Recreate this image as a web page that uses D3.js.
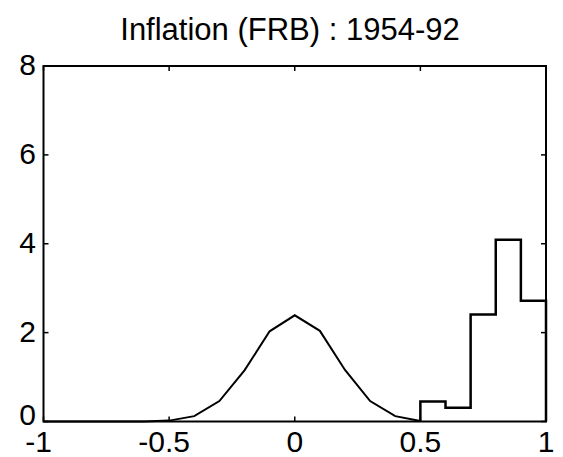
<!DOCTYPE html>
<html lang="en">

<head>
    <meta charset="UTF-8">
    <title>Inflation (FRB) : 1954-92</title>
    <script src="https://d3js.org/d3.v7.min.js"></script>
    <style>
        body { margin: 0; background: #fff; }
        text { font-family: "Liberation Sans", Arial, sans-serif; fill: #000; }
    </style>
</head>

<body>
    <script>
        // data
        var curveX = [-1, -0.9, -0.8, -0.7, -0.6, -0.5, -0.4, -0.3, -0.2, -0.1, 0, 0.1, 0.2, 0.3, 0.4, 0.5];
        var curveY = [0, 0, 0, 0, 0, 0.02, 0.12, 0.46, 1.15, 2.03, 2.39, 2.04, 1.16, 0.46, 0.12, 0.01];

        var binEdges = [0.5, 0.6, 0.7, 0.8, 0.9, 1.0];
        var binHeights = [0.45, 0.31, 2.41, 4.09, 2.72];

        var xTicks = [-1, -0.5, 0, 0.5, 1];
        var yTicks = [0, 2, 4, 6, 8];
        var title = "Inflation (FRB) : 1954-92";

        var width = 563, height = 457;
        // plot box (note: "top" is reserved on window, so use other names)
        var boxL = 43.5, boxR = 546, boxT = 66, boxB = 421.5;

        var svg = d3.select("body")
            .append("svg")
            .attr("width", width)
            .attr("height", height);

        var x = d3.scaleLinear().domain([-1, 1]).range([boxL, boxR]);
        var y = d3.scaleLinear().domain([0, 8]).range([boxB, boxT]);

        // frame
        svg.append("rect")
            .attr("x", boxL).attr("y", boxT)
            .attr("width", boxR - boxL).attr("height", boxB - boxT)
            .attr("fill", "none").attr("stroke", "#000").attr("stroke-width", 2);

        // ticks, inward on all four sides
        var tk = 5;
        xTicks.forEach(function (t) {
            svg.append("line").attr("x1", x(t)).attr("x2", x(t))
                .attr("y1", boxB).attr("y2", boxB - tk)
                .attr("stroke", "#000").attr("stroke-width", 1.5);
            svg.append("line").attr("x1", x(t)).attr("x2", x(t))
                .attr("y1", boxT).attr("y2", boxT + tk)
                .attr("stroke", "#000").attr("stroke-width", 1.5);
            svg.append("text")
                .attr("x", x(t) + (t < 0 ? -5 : 0))
                .attr("y", 452)
                .attr("text-anchor", "middle")
                .attr("font-size", 30)
                .text(t);
        });
        yTicks.forEach(function (t) {
            svg.append("line").attr("x1", boxL).attr("x2", boxL + tk)
                .attr("y1", y(t)).attr("y2", y(t))
                .attr("stroke", "#000").attr("stroke-width", 1.5);
            svg.append("line").attr("x1", boxR).attr("x2", boxR - tk)
                .attr("y1", y(t)).attr("y2", y(t))
                .attr("stroke", "#000").attr("stroke-width", 1.5);
            svg.append("text")
                .attr("x", 36)
                .attr("y", y(t) + (t == 0 ? -8 : -2) + 11)
                .attr("text-anchor", "end")
                .attr("font-size", 30)
                .text(t);
        });

        // density curve
        var pts = curveX.map(function (d, i) { return [d, curveY[i]]; });
        var line = d3.line()
            .x(function (d) { return x(d[0]); })
            .y(function (d) { return y(d[1]); });
        svg.append("path")
            .attr("d", line(pts))
            .attr("fill", "none").attr("stroke", "#000").attr("stroke-width", 2);

        // histogram as a stairs line
        var stairs = [[binEdges[0], 0]];
        for (var i = 0; i < binHeights.length; i++) {
            stairs.push([binEdges[i], binHeights[i]]);
            stairs.push([binEdges[i + 1], binHeights[i]]);
        }
        stairs.push([binEdges[binEdges.length - 1], 0]);
        svg.append("path")
            .attr("d", line(stairs))
            .attr("fill", "none").attr("stroke", "#000").attr("stroke-width", 2.5);

        svg.append("text")
            .attr("x", 290).attr("y", 40)
            .attr("text-anchor", "middle")
            .attr("font-size", 31)
            .text(title);
    </script>
</body>

</html>
